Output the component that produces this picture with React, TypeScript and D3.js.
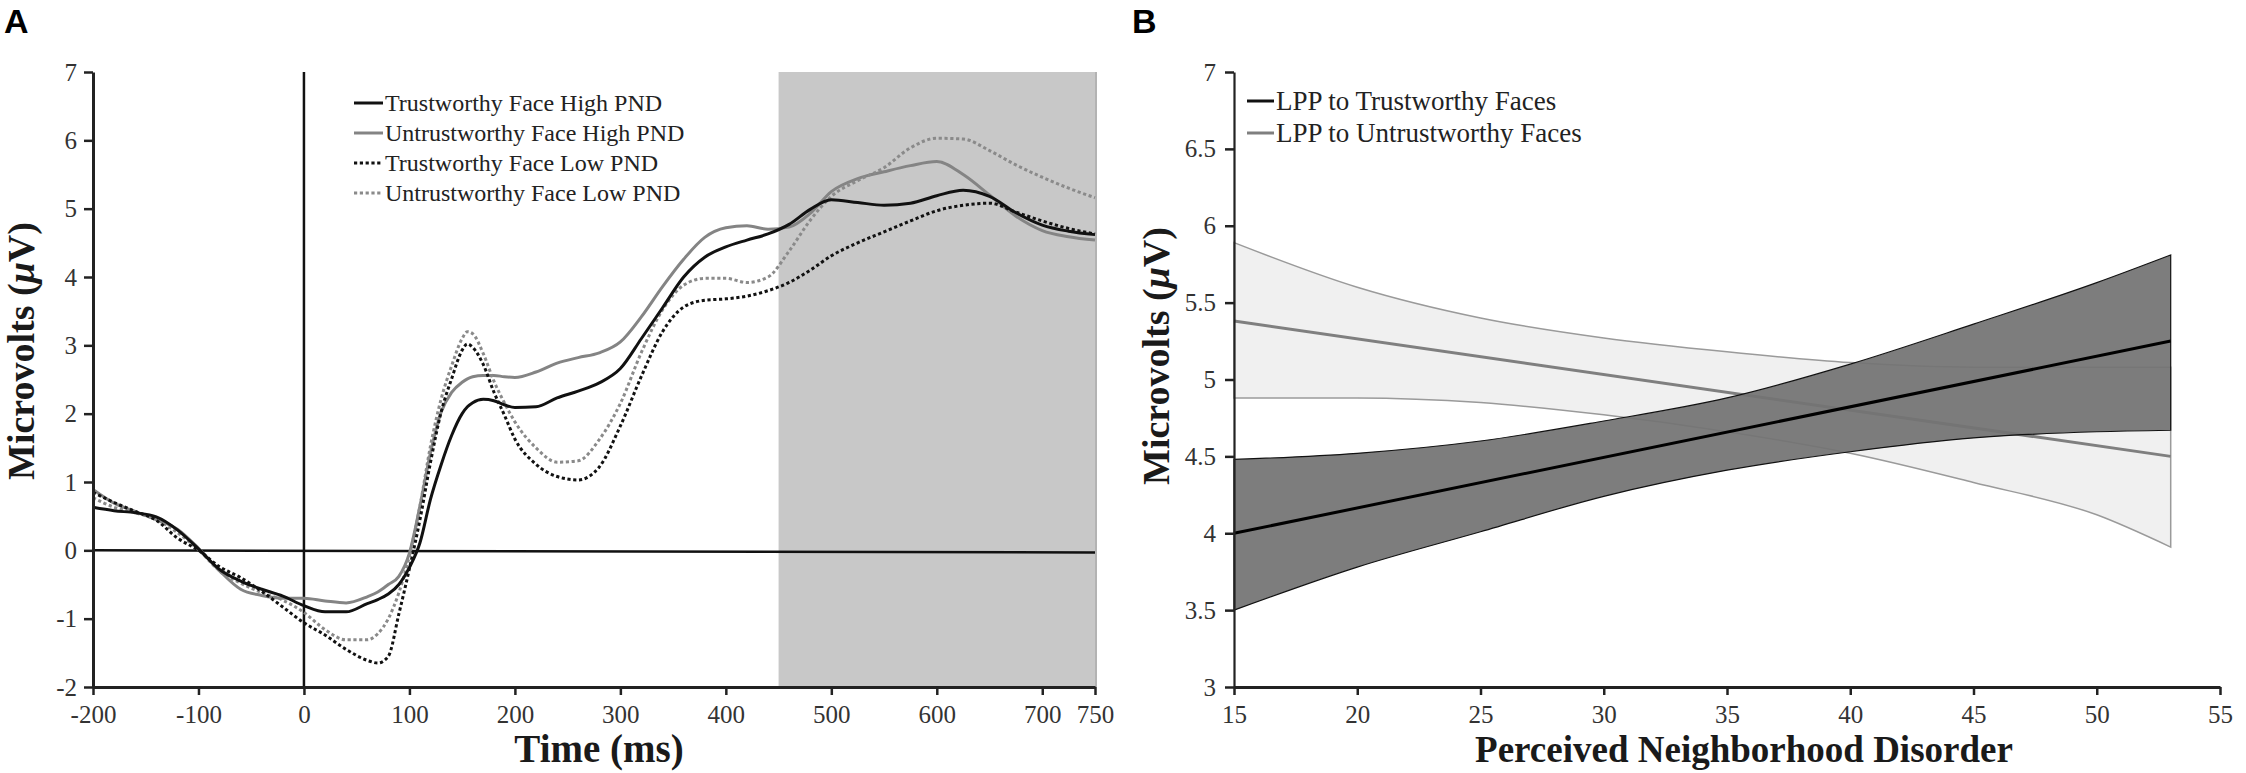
import { useEffect, useRef } from "react";
import * as d3 from "d3";

const W = 2246;
const H = 773;
const SERIF = "'Liberation Serif', 'Times New Roman', serif";
const SANS = "'Liberation Sans', Arial, sans-serif";

// ---------- Panel A: ERP waveforms ----------
const timeMs = [
    -200, -180, -160, -140, -120, -100, -80, -60, -40, -20,
    0, 20, 40, 60, 70, 80, 90,
    100, 110, 120, 130, 140, 150, 155, 160, 170, 180, 190,
    200, 220, 240, 260, 280,
    300, 320, 340, 360, 380,
    400, 420, 440, 460, 480,
    500, 525, 550, 575,
    600, 625, 650, 675,
    700, 725, 750,
];

const trustHigh = [
    0.63, 0.58, 0.55, 0.49, 0.3, 0.02, -0.28, -0.45, -0.57, -0.67,
    -0.81, -0.9, -0.9, -0.78, -0.72, -0.64, -0.5,
    -0.25, 0.11, 0.75, 1.25, 1.68, 2.0, 2.1, 2.16, 2.21, 2.19, 2.13,
    2.09, 2.1, 2.23, 2.33, 2.45,
    2.66, 3.1, 3.55, 4.0, 4.29,
    4.44, 4.54, 4.63, 4.77, 4.99,
    5.13, 5.09, 5.05, 5.08,
    5.19, 5.27, 5.18, 4.94,
    4.76, 4.67, 4.62,
];

const untrustHigh = [
    0.89, 0.69, 0.57, 0.45, 0.31, 0.03, -0.3, -0.57, -0.66, -0.7,
    -0.7, -0.74, -0.77, -0.68, -0.61, -0.5, -0.38,
    -0.04, 0.65, 1.43, 2.02, 2.31, 2.46, 2.51, 2.54, 2.56, 2.56, 2.54,
    2.53, 2.61, 2.74, 2.82, 2.89,
    3.05, 3.42, 3.86, 4.26, 4.58,
    4.72, 4.75, 4.7, 4.73, 4.93,
    5.25, 5.44, 5.54, 5.63,
    5.69, 5.5, 5.2, 4.89,
    4.68, 4.59, 4.54,
];

const trustLow = [
    0.85, 0.7, 0.57, 0.44, 0.18, 0.0, -0.24, -0.4, -0.6, -0.83,
    -1.06, -1.24, -1.45, -1.61, -1.65, -1.55, -0.93,
    -0.27, 0.45, 1.29, 2.02, 2.51, 2.93, 3.02, 2.97, 2.72, 2.32, 1.98,
    1.63, 1.26, 1.08, 1.03, 1.22,
    1.82, 2.55, 3.2, 3.56, 3.66,
    3.68, 3.72, 3.8, 3.92, 4.1,
    4.31, 4.5, 4.66, 4.82,
    4.97, 5.05, 5.08, 4.95,
    4.82, 4.71, 4.63,
];

const untrustLow = [
    0.77, 0.63, 0.55, 0.45, 0.26, 0.01, -0.3, -0.48, -0.62, -0.73,
    -0.91, -1.16, -1.31, -1.31, -1.22, -1.0, -0.62,
    -0.08, 0.65, 1.53, 2.21, 2.7, 3.1, 3.2, 3.17, 2.88, 2.48, 2.16,
    1.88, 1.5, 1.29, 1.31, 1.62,
    2.15, 2.9, 3.52, 3.88, 3.98,
    3.98, 3.92, 4.0, 4.38, 4.83,
    5.18, 5.41, 5.6, 5.89,
    6.03, 6.02, 5.85, 5.64,
    5.46, 5.3, 5.16,
];

const erpSeries = [
    { name: "Trustworthy Face High PND", values: trustHigh, color: "#111", dash: null },
    { name: "Untrustworthy Face High PND", values: untrustHigh, color: "#848484", dash: null },
    { name: "Trustworthy Face Low PND", values: trustLow, color: "#111", dash: "3.2 2.6" },
    { name: "Untrustworthy Face Low PND", values: untrustLow, color: "#8a8a8a", dash: "3.2 2.6" },
];

const lppWindow = [450, 750];
const baselineLine = [
    [-200, 0],
    [750, -0.03],
];
const timeTicks = [-200, -100, 0, 100, 200, 300, 400, 500, 600, 700, 750];
const voltTicksA = [-2, -1, 0, 1, 2, 3, 4, 5, 6, 7];

// ---------- Panel B: regression with confidence bands ----------
const pnd = [15, 20, 25, 30, 35, 40, 45, 50, 53];
const trustUpper = [4.48, 4.52, 4.6, 4.73, 4.88, 5.1, 5.36, 5.63, 5.81];
const trustLower = [3.5, 3.78, 4.01, 4.24, 4.41, 4.53, 4.62, 4.66, 4.67];
const untrustUpper = [5.89, 5.6, 5.4, 5.27, 5.18, 5.11, 5.08, 5.08, 5.08];
const untrustLower = [4.88, 4.88, 4.85, 4.77, 4.66, 4.52, 4.33, 4.12, 3.91];
const fitEnds = [15, 53];
const trustFit = [4.0, 5.25];
const untrustFit = [5.38, 4.5];
const pndTicks = [15, 20, 25, 30, 35, 40, 45, 50, 55];
const voltTicksB = [3, 3.5, 4, 4.5, 5, 5.5, 6, 6.5, 7];

type G = d3.Selection<SVGGElement, unknown, null, undefined>;

function styleAxis(g: G, domainWidth: number) {
    g.attr("font-family", SERIF).attr("font-size", 25);
    g.select(".domain").attr("stroke", "#222").attr("stroke-width", domainWidth);
    g.selectAll(".tick line").attr("stroke", "#222").attr("stroke-width", 2.5);
    g.selectAll(".tick text").attr("fill", "#333");
}

function yTitle(g: G, x: number, y: number) {
    const t = g
        .append("text")
        .attr("transform", `translate(${x},${y}) rotate(-90)`)
        .attr("text-anchor", "middle")
        .attr("font-family", SERIF)
        .attr("font-weight", "bold")
        .attr("font-size", 38)
        .attr("fill", "#1a1a1a");
    t.append("tspan").text("Microvolts (");
    t.append("tspan").attr("font-style", "italic").text("μ");
    t.append("tspan").text("V)");
}

function drawA(g: G) {
    const x = d3.scaleLinear().domain([-200, 750]).range([93, 1095]);
    const y = d3.scaleLinear().domain([-2, 7]).range([687, 72]);

    g.append("rect")
        .attr("x", x(lppWindow[0]))
        .attr("y", y(7))
        .attr("width", x(lppWindow[1]) - x(lppWindow[0]))
        .attr("height", y(-2) - y(7))
        .attr("fill", "#c8c8c8");
    g.append("line")
        .attr("x1", x(lppWindow[1]) + 1)
        .attr("x2", x(lppWindow[1]) + 1)
        .attr("y1", y(7))
        .attr("y2", y(-2))
        .attr("stroke", "#9a9a9a")
        .attr("stroke-width", 1.5);

    g.append("line")
        .attr("x1", x(baselineLine[0][0]))
        .attr("y1", y(baselineLine[0][1]))
        .attr("x2", x(baselineLine[1][0]))
        .attr("y2", y(baselineLine[1][1]))
        .attr("stroke", "#111")
        .attr("stroke-width", 2.5);

    g.append("line")
        .attr("x1", x(0))
        .attr("x2", x(0))
        .attr("y1", y(-2))
        .attr("y2", y(7))
        .attr("stroke", "#111")
        .attr("stroke-width", 2.5);

    const line = d3
        .line<number>()
        .x((_, i) => x(timeMs[i]))
        .y((d) => y(d))
        .curve(d3.curveMonotoneX);

    // draw grey series first so black ones sit on top
    [1, 3, 0, 2].forEach((k) => {
        const s = erpSeries[k];
        g.append("path")
            .attr("d", line(s.values))
            .attr("fill", "none")
            .attr("stroke", s.color)
            .attr("stroke-width", 3)
            .attr("stroke-dasharray", s.dash);
    });

    const xAxis = g
        .append("g")
        .attr("transform", `translate(0,${y(-2)})`)
        .call(
            d3
                .axisBottom(x)
                .tickValues(timeTicks)
                .tickFormat((d) => String(d))
                .tickSize(8)
                .tickSizeOuter(0)
                .tickPadding(10),
        );
    styleAxis(xAxis, 3);

    const yAxis = g
        .append("g")
        .attr("transform", `translate(${x(-200)},0)`)
        .call(
            d3
                .axisLeft(y)
                .tickValues(voltTicksA)
                .tickFormat((d) => String(d))
                .tickSize(9)
                .tickSizeOuter(0)
                .tickPadding(7),
        );
    styleAxis(yAxis, 3);

    // legend
    const leg = g.append("g");
    erpSeries.forEach((s, i) => {
        const cy = 103 + i * 30;
        leg.append("line")
            .attr("x1", 354)
            .attr("x2", 383)
            .attr("y1", cy)
            .attr("y2", cy)
            .attr("stroke", s.color)
            .attr("stroke-width", 3)
            .attr("stroke-dasharray", s.dash);
        leg.append("text")
            .attr("x", 385)
            .attr("y", cy)
            .attr("dy", "0.35em")
            .attr("font-family", SERIF)
            .attr("font-size", 24)
            .attr("fill", "#222")
            .text(s.name);
    });

    g.append("text")
        .attr("x", 599)
        .attr("y", 762)
        .attr("text-anchor", "middle")
        .attr("font-family", SERIF)
        .attr("font-weight", "bold")
        .attr("font-size", 39)
        .attr("fill", "#1a1a1a")
        .text("Time (ms)");

    yTitle(g, 34, 351);

    g.append("text")
        .attr("x", 4)
        .attr("y", 33)
        .attr("font-family", SANS)
        .attr("font-weight", "bold")
        .attr("font-size", 34)
        .attr("fill", "#000")
        .text("A");
}

function drawB(g: G) {
    const x = d3.scaleLinear().domain([15, 55]).range([1234, 2220]);
    const y = d3.scaleLinear().domain([3, 7]).range([687, 72]);

    const band = (upper: number[], lower: number[]) =>
        d3
            .area<number>()
            .x((_, i) => x(pnd[i]))
            .y0((_, i) => y(lower[i]))
            .y1((d) => y(d))
            .curve(d3.curveMonotoneX)(upper);

    const fit = d3
        .line<number>()
        .x((_, i) => x(fitEnds[i]))
        .y((d) => y(d));

    g.append("path")
        .attr("d", band(untrustUpper, untrustLower))
        .attr("fill", "#f0f0f0")
        .attr("stroke", "#9a9a9a")
        .attr("stroke-width", 1.5);

    g.append("path")
        .attr("d", fit(untrustFit))
        .attr("stroke", "#7f7f7f")
        .attr("stroke-width", 3)
        .attr("fill", "none");

    g.append("path")
        .attr("d", band(trustUpper, trustLower))
        .attr("fill", "#737373")
        .attr("fill-opacity", 0.93)
        .attr("stroke", "#111")
        .attr("stroke-width", 1.2);

    g.append("path")
        .attr("d", fit(trustFit))
        .attr("stroke", "#000")
        .attr("stroke-width", 3)
        .attr("fill", "none");

    const xAxis = g
        .append("g")
        .attr("transform", `translate(0,${y(3)})`)
        .call(
            d3
                .axisBottom(x)
                .tickValues(pndTicks)
                .tickFormat((d) => String(d))
                .tickSize(8)
                .tickSizeOuter(0)
                .tickPadding(10),
        );
    styleAxis(xAxis, 3);

    const yAxis = g
        .append("g")
        .attr("transform", `translate(${x(15)},0)`)
        .call(
            d3
                .axisLeft(y)
                .tickValues(voltTicksB)
                .tickFormat((d) => String(d))
                .tickSize(9)
                .tickSizeOuter(0)
                .tickPadding(9),
        );
    styleAxis(yAxis, 2.2);

    const legend = [
        { name: "LPP to Trustworthy Faces", color: "#111" },
        { name: "LPP to Untrustworthy Faces", color: "#7f7f7f" },
    ];
    legend.forEach((s, i) => {
        const cy = 101 + i * 32;
        g.append("line")
            .attr("x1", 1247)
            .attr("x2", 1274)
            .attr("y1", cy)
            .attr("y2", cy)
            .attr("stroke", s.color)
            .attr("stroke-width", 3);
        g.append("text")
            .attr("x", 1276)
            .attr("y", cy)
            .attr("dy", "0.35em")
            .attr("font-family", SERIF)
            .attr("font-size", 27)
            .attr("fill", "#222")
            .text(s.name);
    });

    g.append("text")
        .attr("x", 1744)
        .attr("y", 762)
        .attr("text-anchor", "middle")
        .attr("font-family", SERIF)
        .attr("font-weight", "bold")
        .attr("font-size", 37)
        .attr("fill", "#1a1a1a")
        .text("Perceived Neighborhood Disorder");

    yTitle(g, 1169, 356);

    g.append("text")
        .attr("x", 1132)
        .attr("y", 33)
        .attr("font-family", SANS)
        .attr("font-weight", "bold")
        .attr("font-size", 34)
        .attr("fill", "#000")
        .text("B");
}

export default function App() {
    const svgRef = useRef<SVGSVGElement>(null);

    useEffect(() => {
        if (!svgRef.current) return;
        const svg = d3.select(svgRef.current);
        svg.selectAll("*").remove();
        drawA(svg.append("g"));
        drawB(svg.append("g"));
    }, []);

    return (
        <svg
            ref={svgRef}
            width={W}
            height={H}
            style={{ position: "absolute", left: 0, top: 0, background: "#fff" }}
        ></svg>
    );
}
